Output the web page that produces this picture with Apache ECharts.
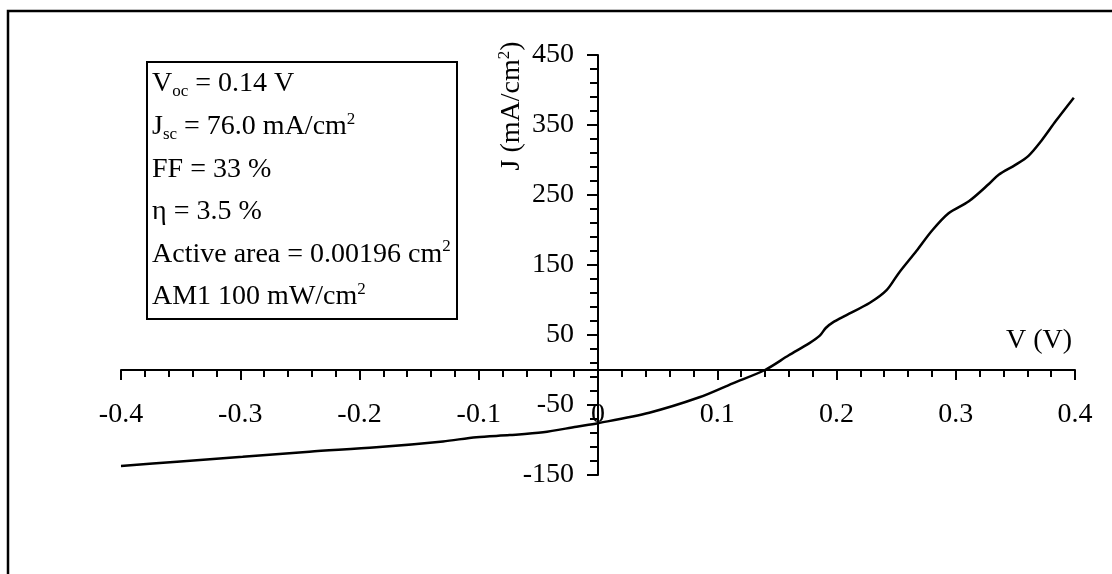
<!DOCTYPE html>
<html>
<head>
<meta charset="utf-8">
<script src="https://cdn.jsdelivr.net/npm/echarts@6/dist/echarts.min.js"></script>
<style>
  html, body { margin: 0; padding: 0; background: #fff; }
  #chart { width: 1112px; height: 574px; }
</style>
</head>
<body>
<div id="chart"></div>
<script>
// J–V curve of the cell under illumination
const voltage = [-0.400, -0.353, -0.298, -0.242, -0.186, -0.130, -0.102, -0.074, -0.046, -0.018,
                 0.000, 0.043, 0.085, 0.113, 0.140, 0.160, 0.177, 0.186, 0.191, 0.197,
                 0.208, 0.228, 0.242, 0.252, 0.267, 0.280, 0.294, 0.311, 0.328, 0.336,
                 0.350, 0.361, 0.372, 0.384, 0.399];
const currentDensity = [-137, -131, -124, -116.7, -110.5, -102, -96, -93, -89, -81,
                        -76.0, -61, -39, -19, 0, 21, 38, 49, 60, 68,
                        78, 96, 114, 138, 170, 199, 224, 241, 266, 279,
                        293, 306, 328, 356, 389];

// Axis ranges
const xRange = [-0.4, 0.4];
const yRange = [-150, 450];

// Cell parameters shown in the inset box
const paramLines = [
  '{n|V}{sub|oc}{n| = 0.14 V}',
  '{n|J}{sub|sc}{n| = 76.0 mA/cm}{sup|2}',
  '{n|FF = 33 %}',
  '{n|η = 3.5 %}',
  '{n|Active area = 0.00196 cm}{sup|2}',
  '{n|AM1 100 mW/cm}{sup|2}'
];

const xAxisName = 'V (V)';
const yAxisName = '{n|J (mA/cm}{sup|2}{n|)}';

const FONT = '"Liberation Serif", "DejaVu Serif", serif';
const FS = 28;

const richStyles = {
  n:   { fontFamily: FONT, fontSize: FS, lineHeight: 32, verticalAlign: 'middle', fill: '#000', color: '#000' },
  sub: { fontFamily: FONT, fontSize: 17, lineHeight: 17, verticalAlign: 'bottom', fill: '#000', color: '#000' },
  sup: { fontFamily: FONT, fontSize: 17, lineHeight: 17, verticalAlign: 'top', fill: '#000', color: '#000' }
};

const W = 1112, H = 574;
const grid = { left: 121, right: 37, top: 55, bottom: 99 };
const plotW = W - grid.left - grid.right;
const plotH = H - grid.top - grid.bottom;
// the axes cross at the origin: shift each axis line from the plot edge to zero
const xAxisOffset = -plotH * (0 - yRange[0]) / (yRange[1] - yRange[0]);
const yAxisOffset = -plotW * (0 - xRange[0]) / (xRange[1] - xRange[0]);

const chart = echarts.init(document.getElementById('chart'), null, { renderer: 'canvas' });

const fmtX = v => {
  const r = Math.round(v * 10) / 10;
  return r === 0 ? '0' : r.toFixed(1);
};

const boxLeft = 147, boxTop = 62, boxH = 257, boxW = 310;
const paramTexts = paramLines.map((t, i) => ({
  type: 'text',
  style: {
    x: 152,
    y: 84 + i * 42.6,
    text: t,
    rich: richStyles,
    verticalAlign: 'middle',
    align: 'left'
  },
  z: 10
}));

chart.setOption({
  animation: false,
  backgroundColor: '#fff',
  grid: Object.assign({ containLabel: false }, grid),
  xAxis: {
    type: 'value',
    position: 'bottom',
    offset: xAxisOffset,
    min: xRange[0], max: xRange[1], interval: 0.1,
    axisLine: { onZero: false, lineStyle: { color: '#000', width: 2 } },
    axisTick: { show: true, inside: false, length: 10, lineStyle: { color: '#000', width: 2 } },
    minorTick: { show: true, splitNumber: 5, length: 7, lineStyle: { color: '#000', width: 2 } },
    splitLine: { show: false },
    axisLabel: { fontFamily: FONT, fontSize: FS, color: '#000', margin: 31, formatter: fmtX, showMinLabel: true, showMaxLabel: true }
  },
  yAxis: {
    type: 'value',
    position: 'left',
    offset: yAxisOffset,
    min: yRange[0], max: yRange[1], interval: 100,
    axisLine: { onZero: false, lineStyle: { color: '#000', width: 2 } },
    axisTick: { show: true, inside: false, length: 11, lineStyle: { color: '#000', width: 2 } },
    minorTick: { show: true, splitNumber: 5, length: 8, lineStyle: { color: '#000', width: 2 } },
    splitLine: { show: false },
    axisLabel: { fontFamily: FONT, fontSize: FS, color: '#000', margin: 24, showMinLabel: true, showMaxLabel: true }
  },
  series: [{
    type: 'line',
    data: voltage.map((v, i) => [v, currentDensity[i]]),
    showSymbol: false,
    smooth: 0.3,
    lineStyle: { color: '#000', width: 2.5 },
    z: 5
  }],
  graphic: [
    // outer frame (top and left edges visible)
    { type: 'rect', shape: { x: 8, y: 11, width: 1300, height: 800 },
      style: { fill: null, stroke: '#000', lineWidth: 2.5 }, z: 1 },
    // inset box
    { type: 'rect', shape: { x: boxLeft, y: boxTop, width: boxW, height: boxH },
      style: { fill: '#fff', stroke: '#000', lineWidth: 2 }, z: 9 },
    ...paramTexts,
    // axis titles
    { type: 'text', x: 512, y: 106, rotation: Math.PI / 2,
      style: { text: yAxisName, rich: richStyles, align: 'center', verticalAlign: 'middle' }, z: 10 },
    { type: 'text',
      style: { x: 1039, y: 341, text: xAxisName, fontFamily: FONT, fontSize: FS, fill: '#000',
               align: 'center', verticalAlign: 'middle' }, z: 10 }
  ]
});
</script>
</body>
</html>
